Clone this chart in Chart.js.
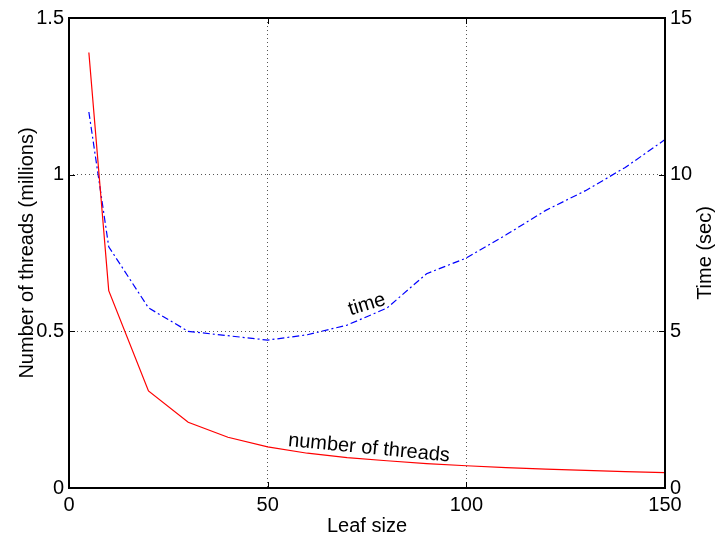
<!DOCTYPE html>
<html>
<head>
<meta charset="utf-8">
<script src="https://cdn.jsdelivr.net/npm/chart.js@4/dist/chart.umd.min.js"></script>
<style>
  html,body{margin:0;padding:0;background:#fff;}
  #wrap{width:718px;height:538px;}
</style>
</head>
<body>
<div id="wrap"><canvas id="myChart" width="718" height="538"></canvas></div>
<script>
// leaf sizes (x)
const leafSize=[5,10,20,30,40,50,60,70,80,90,100,110,120,130,140,150];
// number of threads, millions (left axis)
const threads=[1.39,0.63,0.31,0.21,0.162,0.131,0.111,0.097,0.087,0.078,0.071,0.065,0.060,0.056,0.052,0.049];
// time in seconds (right axis)
const timeSec=[12.0,7.7,5.75,5.0,4.86,4.72,4.89,5.2,5.74,6.84,7.34,8.08,8.86,9.49,10.23,11.12];
const xTicks=[0,50,100,150];
const leftTicks=[0,0.5,1,1.5];
const rightTicks=[0,5,10,15];

const FONT="'Liberation Sans', Arial, Helvetica, sans-serif";
const FS=20;

function pts(xs,ys){return xs.map((x,i)=>({x:x,y:ys[i]}));}

const gridColor=(edge)=>c=>{
  const v=c.tick?c.tick.value:null;
  return (v===edge[0]||v===edge[1])?'rgba(0,0,0,0)':'#555';
};

const boxPlugin={
  id:'box',
  afterDraw(chart){
    const ctx=chart.ctx, a=chart.chartArea;
    const xs=chart.scales.x, yl=chart.scales.y, yr=chart.scales.y2;
    ctx.save();
    ctx.strokeStyle='#000';
    ctx.lineWidth=2;
    ctx.strokeRect(a.left,a.top,a.right-a.left,a.bottom-a.top);
    ctx.lineWidth=1;
    const tl=6;
    ctx.beginPath();
    xTicks.slice(1,-1).forEach(v=>{
      const px=Math.round(xs.getPixelForValue(v))+0.5;
      ctx.moveTo(px,a.bottom);ctx.lineTo(px,a.bottom-tl);
      ctx.moveTo(px,a.top);ctx.lineTo(px,a.top+tl);
    });
    leftTicks.slice(1,-1).forEach(v=>{
      const py=Math.round(yl.getPixelForValue(v))+0.5;
      ctx.moveTo(a.left,py);ctx.lineTo(a.left+tl,py);
    });
    rightTicks.slice(1,-1).forEach(v=>{
      const py=Math.round(yr.getPixelForValue(v))+0.5;
      ctx.moveTo(a.right,py);ctx.lineTo(a.right-tl,py);
    });
    ctx.stroke();

    // inline series labels
    ctx.fillStyle='#000';
    ctx.font=FS+'px '+FONT;
    ctx.textAlign='center';
    ctx.textBaseline='middle';
    ctx.save();
    ctx.translate(xs.getPixelForValue(75),yr.getPixelForValue(5.85));
    ctx.rotate(-17*Math.PI/180);
    ctx.fillText('time',0,0);
    ctx.restore();
    ctx.save();
    ctx.translate(xs.getPixelForValue(75.5),yl.getPixelForValue(0.127));
    ctx.rotate(5.5*Math.PI/180);
    ctx.fillText('number of threads',0,0);
    ctx.restore();

    // right axis title, reading bottom to top
    ctx.save();
    ctx.translate(705,(a.top+a.bottom)/2);
    ctx.rotate(-Math.PI/2);
    ctx.fillText('Time (sec)',0,0);
    ctx.restore();
    ctx.restore();
  }
};

new Chart(document.getElementById('myChart'),{
  type:'line',
  data:{
    datasets:[{
      label:'number of threads',
      data:pts(leafSize,threads),
      yAxisID:'y',
      borderColor:'#ff0000',
      borderWidth:1.2,
      pointRadius:0,
      tension:0,
      fill:false
    },{
      label:'time',
      data:pts(leafSize,timeSec),
      yAxisID:'y2',
      borderColor:'#0000ff',
      borderWidth:1.2,
      borderDash:[7,3,2,3],
      pointRadius:0,
      tension:0,
      fill:false
    }]
  },
  options:{
    responsive:false,
    animation:false,
    layout:{padding:{top:18,left:0,right:0,bottom:0}},
    plugins:{legend:{display:false},tooltip:{enabled:false}},
    scales:{
      x:{
        type:'linear',min:0,max:150,
        afterBuildTicks:s=>{s.ticks=xTicks.map(v=>({value:v}));},
        afterFit:s=>{s.height=50;},
        ticks:{color:'#000',font:{family:FONT,size:FS},padding:5.5,maxRotation:0,autoSkip:false,callback:v=>String(v)},
        grid:{color:gridColor([0,150]),drawTicks:false,lineWidth:1},
        border:{display:false,dash:[1,3]},
        title:{display:true,text:'Leaf size',color:'#000',font:{family:FONT,size:FS},padding:{top:0,bottom:0}}
      },
      y:{
        type:'linear',position:'left',min:0,max:1.5,
        afterBuildTicks:s=>{s.ticks=leftTicks.map(v=>({value:v}));},
        afterFit:s=>{s.width=69;},
        ticks:{color:'#000',font:{family:FONT,size:FS},padding:5,callback:v=>String(v)},
        grid:{color:gridColor([0,1.5]),drawTicks:false,lineWidth:1},
        border:{display:false,dash:[1,3]},
        title:{display:true,text:'Number of threads (millions)',color:'#000',font:{family:FONT,size:FS},padding:{top:15,bottom:0}}
      },
      y2:{
        type:'linear',position:'right',min:0,max:15,
        afterBuildTicks:s=>{s.ticks=rightTicks.map(v=>({value:v}));},
        afterFit:s=>{s.width=53;},
        ticks:{color:'#000',font:{family:FONT,size:FS},padding:5,callback:v=>String(v)},
        grid:{display:false,drawTicks:false},
        border:{display:false}
      }
    }
  },
  plugins:[boxPlugin]
});
</script>
</body>
</html>
